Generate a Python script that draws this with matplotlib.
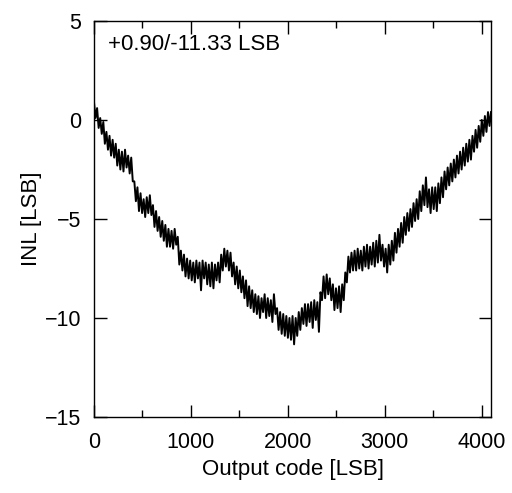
import numpy as np
import matplotlib
matplotlib.use('Agg')
import matplotlib.pyplot as plt
from matplotlib.ticker import MultipleLocator

plt.rcParams['font.family'] = ['Liberation Sans', 'DejaVu Sans']

# INL trace, one value every 16 codes (last one at code 4095)
code_step = 16
inl = [
    0.9, 0.1, 0.6, -0.4, 0.1, -0.7, -0.1, -1.2, -0.6, -1.5, -0.8, -1.8, -1.0, -1.9, -1.2, -2.3,
    -1.5, -2.5, -1.6, -2.6, -1.5, -2.4, -1.8, -2.7, -1.9, -3.1, -3.1, -4.1, -3.4, -4.6, -3.7, -4.7,
    -4.0, -4.9, -3.9, -4.7, -3.8, -4.8, -4.3, -5.4, -4.6, -5.6, -4.9, -5.9, -5.1, -6.1, -5.3, -6.4,
    -5.5, -6.4, -5.6, -6.5, -5.5, -6.3, -5.9, -7.3, -6.6, -7.6, -6.8, -7.9, -7.0, -8.0, -7.1, -8.1,
    -7.2, -8.2, -7.1, -8.0, -7.2, -8.6, -7.1, -8.0, -7.2, -8.3, -7.3, -8.4, -7.2, -8.5, -7.3, -8.1,
    -7.2, -8.2, -6.8, -7.6, -6.5, -7.4, -6.6, -7.6, -6.7, -7.9, -7.2, -8.3, -7.4, -8.5, -7.6, -8.7,
    -7.9, -9.0, -8.1, -9.4, -8.4, -9.5, -8.6, -9.7, -8.8, -9.8, -8.9, -10.0, -9.0, -9.7, -8.8, -10.0,
    -9.0, -9.9, -9.1, -10.2, -8.8, -9.8, -9.5, -10.6, -9.7, -10.8, -9.8, -10.9, -9.9, -11.0, -10.0, -11.1,
    -9.9, -11.33, -10.0, -10.9, -9.7, -10.6, -9.5, -10.3, -9.3, -10.4, -9.3, -10.2, -9.2, -10.5, -9.1, -10.1,
    -9.2, -10.7, -8.7, -9.1, -7.9, -9.0, -7.8, -8.8, -8.0, -9.1, -8.3, -9.6, -8.5, -9.5, -8.4, -9.7,
    -8.3, -9.1, -7.7, -8.2, -6.9, -7.7, -6.7, -7.6, -6.6, -7.6, -6.5, -7.5, -6.6, -7.6, -6.4, -7.4,
    -6.3, -7.5, -6.4, -7.3, -6.2, -7.4, -6.1, -7.2, -5.8, -7.1, -6.3, -7.4, -6.5, -7.7, -6.3, -7.3,
    -6.1, -7.1, -5.7, -6.7, -5.5, -6.4, -5.2, -6.2, -4.9, -5.8, -4.7, -5.6, -4.5, -5.4, -4.2, -5.1,
    -4.0, -5.0, -3.6, -4.6, -3.3, -4.3, -2.9, -4.4, -3.5, -4.7, -3.4, -4.5, -3.4, -4.6, -3.2, -4.2,
    -2.9, -3.9, -2.6, -3.5, -2.4, -3.3, -2.2, -3.1, -2.0, -2.9, -1.8, -2.7, -1.6, -2.5, -1.4, -2.3,
    -1.2, -2.1, -1.0, -2.0, -0.8, -1.6, -0.5, -1.4, -0.3, -1.1, 0.0, -0.8, 0.2, -0.6, 0.4, -0.3,
    0.4,
]
codes = np.minimum(np.arange(len(inl)) * code_step, 4095)

x_ticks = [0, 1000, 2000, 3000, 4000]
y_ticks = [-15, -10, -5, 0, 5]
note = '+0.90/-11.33 LSB'

fig = plt.figure(figsize=(5.12, 4.93), dpi=100)
ax = fig.add_axes([94 / 512, 1 - 417 / 493, 397 / 512, 396 / 493])

ax.plot(codes, inl, color='black', linewidth=1.4)

ax.set_xlim(0, 4095)
ax.set_ylim(-15, 5)
ax.set_xticks(x_ticks)
ax.set_yticks(y_ticks)
ax.xaxis.set_minor_locator(MultipleLocator(500))
ax.tick_params(which='both', direction='in', top=True, right=True, labelsize=15.5)
ax.tick_params(axis='x', pad=11)
ax.tick_params(axis='y', pad=9)
ax.tick_params(which='major', length=9, width=1)
ax.tick_params(which='minor', length=5, width=1)
for s in ax.spines.values():
    s.set_linewidth(1)

ax.set_xlabel('Output code [LSB]', fontsize=16, labelpad=4)
ax.set_ylabel('INL [LSB]', fontsize=16, labelpad=2)
ax.text(0.035, 0.94, note, transform=ax.transAxes, fontsize=16, va='center', ha='left')

fig.savefig('out.png', dpi=100)
